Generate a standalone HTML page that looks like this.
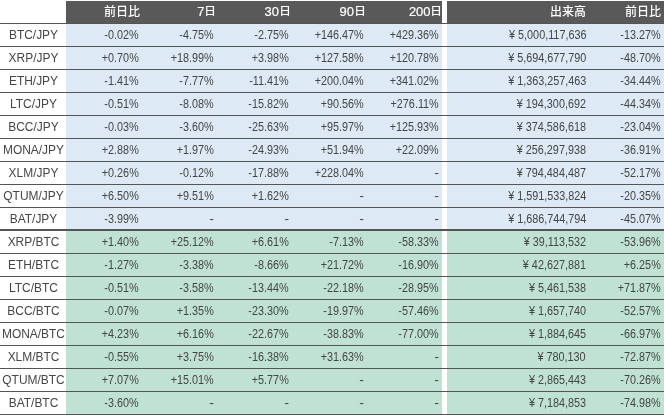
<!DOCTYPE html>
<html lang="ja"><head><meta charset="utf-8"><title>table</title>
<style>
html,body{margin:0;padding:0;background:#fff;width:664px;height:415px;overflow:hidden}
body{position:relative;font-family:"Liberation Sans","Noto Sans CJK JP",sans-serif;color:#454545}
.bg{position:absolute}
.t{position:absolute;white-space:nowrap;font-size:12.5px;line-height:22px;height:22px;transform:scaleX(0.865);transform-origin:100% 50%;text-align:right}
.n{transform-origin:50% 50%;text-align:center}
.h{position:absolute;white-space:nowrap;font-size:13.5px;line-height:22px;height:22px;color:#fff;font-weight:bold;transform:scaleX(0.96);transform-origin:100% 50%;text-align:right}
.cj{font-size:12px;transform:none;font-weight:500}
.nm{transform:scaleX(0.955)}
.ln{position:absolute;left:0;width:664px;height:1px;background:#555}
</style></head><body>

<div class="bg" style="left:66px;top:1px;width:376px;height:22px;background:#595959"></div>
<div class="bg" style="left:447px;top:1px;width:217px;height:22px;background:#595959"></div>
<div class="bg" style="left:66px;top:24px;width:376px;height:206px;background:#ddeaf5"></div>
<div class="bg" style="left:447px;top:24px;width:217px;height:206px;background:#ddeaf5"></div>
<div class="bg" style="left:66px;top:231px;width:376px;height:184px;background:#c0e2d4"></div>
<div class="bg" style="left:447px;top:231px;width:217px;height:184px;background:#c0e2d4"></div>
<div class="ln" style="top:23px"></div>
<div class="ln" style="top:46px"></div>
<div class="ln" style="top:69px"></div>
<div class="ln" style="top:92px"></div>
<div class="ln" style="top:115px"></div>
<div class="ln" style="top:138px"></div>
<div class="ln" style="top:161px"></div>
<div class="ln" style="top:184px"></div>
<div class="ln" style="top:207px"></div>
<div class="ln" style="top:229px"></div>
<div class="ln" style="top:230px"></div>
<div class="ln" style="top:253px"></div>
<div class="ln" style="top:276px"></div>
<div class="ln" style="top:299px"></div>
<div class="ln" style="top:322px"></div>
<div class="ln" style="top:345px"></div>
<div class="ln" style="top:368px"></div>
<div class="ln" style="top:391px"></div>
<div class="ln" style="top:414px"></div>
<div class="h cj" style="right:524px;top:1px">前日比</div>
<div class="h cj" style="right:448.1px;top:0px;font-size:12px;font-weight:500;transform:translateY(0.2px) scale(0.97,0.93);transform-origin:100% 16px">日</div>
<div class="h" style="right:459.6px;top:0.5px;font-weight:normal;-webkit-text-stroke:0.2px #fff">7</div>
<div class="h cj" style="right:373.1px;top:0px;font-size:12px;font-weight:500;transform:translateY(0.2px) scale(0.97,0.93);transform-origin:100% 16px">日</div>
<div class="h" style="right:384.6px;top:0.5px;font-weight:normal;-webkit-text-stroke:0.2px #fff">30</div>
<div class="h cj" style="right:298.1px;top:0px;font-size:12px;font-weight:500;transform:translateY(0.2px) scale(0.97,0.93);transform-origin:100% 16px">日</div>
<div class="h" style="right:309.6px;top:0.5px;font-weight:normal;-webkit-text-stroke:0.2px #fff">90</div>
<div class="h cj" style="right:221.89999999999998px;top:0px;font-size:12px;font-weight:500;transform:translateY(0.2px) scale(0.97,0.93);transform-origin:100% 16px">日</div>
<div class="h" style="right:233.39999999999998px;top:0.5px;font-weight:normal;-webkit-text-stroke:0.2px #fff">200</div>
<div class="h cj" style="right:78px;top:1px">出来高</div>
<div class="h cj" style="right:3px;top:1px">前日比</div>
<div class="t n nm" style="left:0.2px;width:67px;top:24px">BTC/JPY</div>
<div class="t" style="right:525px;top:24px">-0.02%</div>
<div class="t" style="right:450px;top:24px">-4.75%</div>
<div class="t" style="right:375px;top:24px">-2.75%</div>
<div class="t" style="right:300px;top:24px">+146.47%</div>
<div class="t" style="right:225px;top:24px">+429.36%</div>
<div class="t" style="right:78px;top:24px">¥ 5,000,117,636</div>
<div class="t" style="right:3px;top:24px">-13.27%</div>
<div class="t n nm" style="left:0.2px;width:67px;top:47px">XRP/JPY</div>
<div class="t" style="right:525px;top:47px">+0.70%</div>
<div class="t" style="right:450px;top:47px">+18.99%</div>
<div class="t" style="right:375px;top:47px">+3.98%</div>
<div class="t" style="right:300px;top:47px">+127.58%</div>
<div class="t" style="right:225px;top:47px">+120.78%</div>
<div class="t" style="right:78px;top:47px">¥ 5,694,677,790</div>
<div class="t" style="right:3px;top:47px">-48.70%</div>
<div class="t n nm" style="left:0.2px;width:67px;top:70px">ETH/JPY</div>
<div class="t" style="right:525px;top:70px">-1.41%</div>
<div class="t" style="right:450px;top:70px">-7.77%</div>
<div class="t" style="right:375px;top:70px">-11.41%</div>
<div class="t" style="right:300px;top:70px">+200.04%</div>
<div class="t" style="right:225px;top:70px">+341.02%</div>
<div class="t" style="right:78px;top:70px">¥ 1,363,257,463</div>
<div class="t" style="right:3px;top:70px">-34.44%</div>
<div class="t n nm" style="left:0.2px;width:67px;top:93px">LTC/JPY</div>
<div class="t" style="right:525px;top:93px">-0.51%</div>
<div class="t" style="right:450px;top:93px">-8.08%</div>
<div class="t" style="right:375px;top:93px">-15.82%</div>
<div class="t" style="right:300px;top:93px">+90.56%</div>
<div class="t" style="right:225px;top:93px">+276.11%</div>
<div class="t" style="right:78px;top:93px">¥ 194,300,692</div>
<div class="t" style="right:3px;top:93px">-44.34%</div>
<div class="t n nm" style="left:0.2px;width:67px;top:116px">BCC/JPY</div>
<div class="t" style="right:525px;top:116px">-0.03%</div>
<div class="t" style="right:450px;top:116px">-3.60%</div>
<div class="t" style="right:375px;top:116px">-25.63%</div>
<div class="t" style="right:300px;top:116px">+95.97%</div>
<div class="t" style="right:225px;top:116px">+125.93%</div>
<div class="t" style="right:78px;top:116px">¥ 374,586,618</div>
<div class="t" style="right:3px;top:116px">-23.04%</div>
<div class="t n nm" style="left:0.2px;width:67px;top:139px">MONA/JPY</div>
<div class="t" style="right:525px;top:139px">+2.88%</div>
<div class="t" style="right:450px;top:139px">+1.97%</div>
<div class="t" style="right:375px;top:139px">-24.93%</div>
<div class="t" style="right:300px;top:139px">+51.94%</div>
<div class="t" style="right:225px;top:139px">+22.09%</div>
<div class="t" style="right:78px;top:139px">¥ 256,297,938</div>
<div class="t" style="right:3px;top:139px">-36.91%</div>
<div class="t n nm" style="left:0.2px;width:67px;top:162px">XLM/JPY</div>
<div class="t" style="right:525px;top:162px">+0.26%</div>
<div class="t" style="right:450px;top:162px">-0.12%</div>
<div class="t" style="right:375px;top:162px">-17.88%</div>
<div class="t" style="right:300px;top:162px">+228.04%</div>
<div class="t" style="right:225.0px;top:162px;transform:scaleX(1.15)">-</div>
<div class="t" style="right:78px;top:162px">¥ 794,484,487</div>
<div class="t" style="right:3px;top:162px">-52.17%</div>
<div class="t n nm" style="left:0.2px;width:67px;top:185px">QTUM/JPY</div>
<div class="t" style="right:525px;top:185px">+6.50%</div>
<div class="t" style="right:450px;top:185px">+9.51%</div>
<div class="t" style="right:375px;top:185px">+1.62%</div>
<div class="t" style="right:300.0px;top:185px;transform:scaleX(1.15)">-</div>
<div class="t" style="right:225.0px;top:185px;transform:scaleX(1.15)">-</div>
<div class="t" style="right:78px;top:185px">¥ 1,591,533,824</div>
<div class="t" style="right:3px;top:185px">-20.35%</div>
<div class="t n nm" style="left:0.2px;width:67px;top:208px">BAT/JPY</div>
<div class="t" style="right:525px;top:208px">-3.99%</div>
<div class="t" style="right:450.0px;top:208px;transform:scaleX(1.15)">-</div>
<div class="t" style="right:375.0px;top:208px;transform:scaleX(1.15)">-</div>
<div class="t" style="right:300.0px;top:208px;transform:scaleX(1.15)">-</div>
<div class="t" style="right:225.0px;top:208px;transform:scaleX(1.15)">-</div>
<div class="t" style="right:78px;top:208px">¥ 1,686,744,794</div>
<div class="t" style="right:3px;top:208px">-45.07%</div>
<div class="t n nm" style="left:0.2px;width:67px;top:231px">XRP/BTC</div>
<div class="t" style="right:525px;top:231px">+1.40%</div>
<div class="t" style="right:450px;top:231px">+25.12%</div>
<div class="t" style="right:375px;top:231px">+6.61%</div>
<div class="t" style="right:300px;top:231px">-7.13%</div>
<div class="t" style="right:225px;top:231px">-58.33%</div>
<div class="t" style="right:78px;top:231px">¥ 39,113,532</div>
<div class="t" style="right:3px;top:231px">-53.96%</div>
<div class="t n nm" style="left:0.2px;width:67px;top:254px">ETH/BTC</div>
<div class="t" style="right:525px;top:254px">-1.27%</div>
<div class="t" style="right:450px;top:254px">-3.38%</div>
<div class="t" style="right:375px;top:254px">-8.66%</div>
<div class="t" style="right:300px;top:254px">+21.72%</div>
<div class="t" style="right:225px;top:254px">-16.90%</div>
<div class="t" style="right:78px;top:254px">¥ 42,627,881</div>
<div class="t" style="right:3px;top:254px">+6.25%</div>
<div class="t n nm" style="left:0.2px;width:67px;top:277px">LTC/BTC</div>
<div class="t" style="right:525px;top:277px">-0.51%</div>
<div class="t" style="right:450px;top:277px">-3.58%</div>
<div class="t" style="right:375px;top:277px">-13.44%</div>
<div class="t" style="right:300px;top:277px">-22.18%</div>
<div class="t" style="right:225px;top:277px">-28.95%</div>
<div class="t" style="right:78px;top:277px">¥ 5,461,538</div>
<div class="t" style="right:3px;top:277px">+71.87%</div>
<div class="t n nm" style="left:0.2px;width:67px;top:300px">BCC/BTC</div>
<div class="t" style="right:525px;top:300px">-0.07%</div>
<div class="t" style="right:450px;top:300px">+1.35%</div>
<div class="t" style="right:375px;top:300px">-23.30%</div>
<div class="t" style="right:300px;top:300px">-19.97%</div>
<div class="t" style="right:225px;top:300px">-57.46%</div>
<div class="t" style="right:78px;top:300px">¥ 1,657,740</div>
<div class="t" style="right:3px;top:300px">-52.57%</div>
<div class="t n nm" style="left:0.2px;width:67px;top:323px">MONA/BTC</div>
<div class="t" style="right:525px;top:323px">+4.23%</div>
<div class="t" style="right:450px;top:323px">+6.16%</div>
<div class="t" style="right:375px;top:323px">-22.67%</div>
<div class="t" style="right:300px;top:323px">-38.83%</div>
<div class="t" style="right:225px;top:323px">-77.00%</div>
<div class="t" style="right:78px;top:323px">¥ 1,884,645</div>
<div class="t" style="right:3px;top:323px">-66.97%</div>
<div class="t n nm" style="left:0.2px;width:67px;top:346px">XLM/BTC</div>
<div class="t" style="right:525px;top:346px">-0.55%</div>
<div class="t" style="right:450px;top:346px">+3.75%</div>
<div class="t" style="right:375px;top:346px">-16.38%</div>
<div class="t" style="right:300px;top:346px">+31.63%</div>
<div class="t" style="right:225.0px;top:346px;transform:scaleX(1.15)">-</div>
<div class="t" style="right:78px;top:346px">¥ 780,130</div>
<div class="t" style="right:3px;top:346px">-72.87%</div>
<div class="t n nm" style="left:0.2px;width:67px;top:369px">QTUM/BTC</div>
<div class="t" style="right:525px;top:369px">+7.07%</div>
<div class="t" style="right:450px;top:369px">+15.01%</div>
<div class="t" style="right:375px;top:369px">+5.77%</div>
<div class="t" style="right:300.0px;top:369px;transform:scaleX(1.15)">-</div>
<div class="t" style="right:225.0px;top:369px;transform:scaleX(1.15)">-</div>
<div class="t" style="right:78px;top:369px">¥ 2,865,443</div>
<div class="t" style="right:3px;top:369px">-70.26%</div>
<div class="t n nm" style="left:0.2px;width:67px;top:392px">BAT/BTC</div>
<div class="t" style="right:525px;top:392px">-3.60%</div>
<div class="t" style="right:450.0px;top:392px;transform:scaleX(1.15)">-</div>
<div class="t" style="right:375.0px;top:392px;transform:scaleX(1.15)">-</div>
<div class="t" style="right:300.0px;top:392px;transform:scaleX(1.15)">-</div>
<div class="t" style="right:225.0px;top:392px;transform:scaleX(1.15)">-</div>
<div class="t" style="right:78px;top:392px">¥ 7,184,853</div>
<div class="t" style="right:3px;top:392px">-74.98%</div>
</body></html>
